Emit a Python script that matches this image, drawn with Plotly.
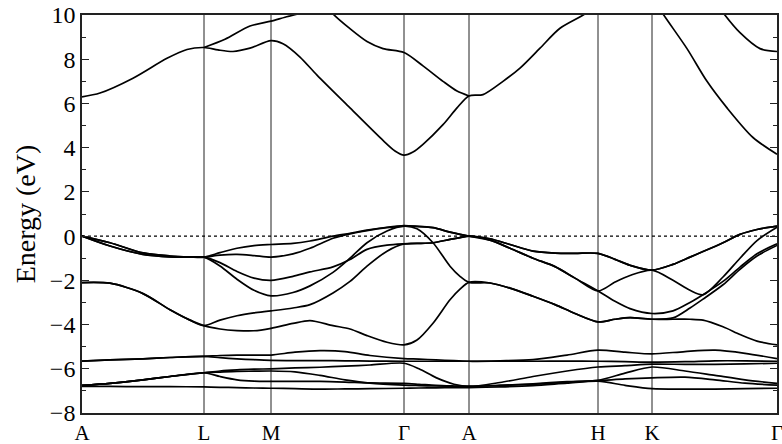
import plotly.graph_objects as go

# ---------------- k-path ----------------
kpt_labels = ["A", "L", "M", "Γ", "A", "H", "K", "Γ"]
kpt_pos = [0, 122, 189, 322, 387, 516, 570, 695]

# ---------------- valence bands near the gap: segment grids ----------------
k_AL = [0, 28, 61, 88, 108, 122]
k_LM = [122, 138, 155, 172, 189]
k_MG = [189, 211, 228, 251, 268, 285, 305, 322]
k_GA = [322, 335, 351, 368, 378, 387]
k_AH = [387, 408, 428, 451, 473, 493, 516]
k_HK = [516, 533, 548, 570]
k_KG = [570, 591, 608, 621, 641, 658, 675, 695]

AL_a = [0, -0.3, -0.76, -0.9, -0.94, -0.95]
AL_b = [0, -0.45, -0.83, -0.94, -0.95, -0.95]
AL_c = [-2.1, -2.13, -2.6, -3.33, -3.8, -4.05]
LM_u1 = [-0.95, -0.75, -0.55, -0.43, -0.38]
LM_u2 = [-0.95, -0.86, -0.83, -0.88, -0.95]
LM_u3 = [-0.95, -1.2, -1.6, -1.9, -2.0]
LM_u4 = [-0.95, -1.35, -1.95, -2.45, -2.7]
LM_u5 = [-4.05, -3.8, -3.6, -3.47, -3.38]
LM_u6 = [-4.05, -4.2, -4.27, -4.28, -4.17]
MG_t1 = [-0.38, -0.33, -0.22, 0.0, 0.13, 0.27, 0.4, 0.47]
MG_t2 = [-0.95, -0.8, -0.55, -0.1, 0.1, 0.25, 0.38, 0.45]
MG_t3 = [-2.0, -1.82, -1.62, -1.39, -1.06, -0.6, -0.41, -0.35]
MG_t4 = [-2.7, -2.55, -2.25, -1.64, -1.0, -0.3, 0.23, 0.45]
MG_t5 = [-3.38, -3.25, -3.1, -2.57, -2.05, -1.36, -0.68, -0.35]
MG_t6 = [-4.17, -3.95, -3.82, -4.05, -4.2, -4.5, -4.8, -4.92]
GA_g1 = [0.47, 0.44, 0.38, 0.18, 0.08, 0.0]
GA_g2 = [0.45, 0.33, -0.3, -1.36, -1.82, -2.09]
GA_g3 = [-0.35, -0.33, -0.3, -0.15, -0.07, 0.0]
GA_g4 = [-4.92, -4.7, -3.94, -2.88, -2.4, -2.09]
AH_h1 = [0, -0.12, -0.38, -0.68, -0.77, -0.78, -0.78]
AH_h2 = [0, -0.18, -0.55, -1.0, -1.38, -1.9, -2.48]
AH_h3 = [-2.09, -2.12, -2.35, -2.72, -3.1, -3.5, -3.88]
HK_k1 = [-0.78, -1.05, -1.32, -1.54]
HK_k2 = [-2.48, -2.08, -1.78, -1.54]
HK_k3 = [-2.48, -2.95, -3.28, -3.5]
HK_k4 = [-3.88, -3.76, -3.69, -3.76]
KG_B = [-1.54, -1.28, -0.95, -0.7, -0.3, 0.08, 0.3, 0.45]
KG_A = [-1.54, -2.0, -2.45, -2.65, -1.85, -1.0, -0.2, 0.4]
KG_C = [-3.5, -3.38, -3.0, -2.65, -2.05, -1.4, -0.8, -0.35]
KG_D = [-3.76, -3.76, -3.76, -3.8, -4.1, -4.45, -4.75, -4.92]
KG_E = [-3.76, -3.7, -3.25, -2.85, -2.2, -1.5, -0.9, -0.42]

# ---------------- lower valence group ----------------
k_lo = [0, 28, 61, 88, 122, 138, 155, 172, 189, 213, 238, 263, 288, 322,
        337, 354, 372, 387, 418, 451, 485, 516, 543, 570, 603, 633, 663, 695]
lo_a = [-5.65, -5.6, -5.55, -5.49, -5.44, -5.4, -5.38, -5.38, -5.38, -5.25, -5.18, -5.22, -5.4, -5.54,
        -5.56, -5.6, -5.63, -5.66, -5.64, -5.59, -5.38, -5.16, -5.25, -5.33, -5.22, -5.16, -5.3, -5.54]
lo_b = [-5.65, -5.6, -5.55, -5.49, -5.44, -5.5, -5.55, -5.59, -5.62, -5.63, -5.63, -5.64, -5.65, -5.66,
        -5.66, -5.66, -5.66, -5.66, -5.66, -5.66, -5.65, -5.66, -5.68, -5.7, -5.68, -5.64, -5.64, -5.66]
lo_c = [-6.75, -6.66, -6.5, -6.35, -6.18, -6.1, -6.05, -6.02, -6.0, -5.96, -5.93, -5.88, -5.83, -5.75,
        -6.0, -6.4, -6.7, -6.8, -6.62, -6.35, -6.1, -5.92, -5.86, -5.79, -5.8, -5.8, -5.78, -5.75]
lo_d = [-6.75, -6.66, -6.5, -6.35, -6.18, -6.15, -6.12, -6.11, -6.1, -6.14, -6.3, -6.5, -6.65, -6.74,
        -6.76, -6.78, -6.79, -6.8, -6.75, -6.68, -6.58, -6.52, -6.2, -5.92, -6.1, -6.3, -6.5, -6.66]
lo_e = [-6.75, -6.66, -6.5, -6.35, -6.18, -6.35, -6.5, -6.56, -6.57, -6.57, -6.57, -6.6, -6.64, -6.66,
        -6.7, -6.75, -6.78, -6.8, -6.75, -6.7, -6.6, -6.54, -6.46, -6.41, -6.38, -6.5, -6.65, -6.74]
lo_f = [-6.8, -6.8, -6.81, -6.81, -6.82, -6.84, -6.85, -6.87, -6.88, -6.9, -6.92, -6.91, -6.9, -6.88,
        -6.87, -6.86, -6.85, -6.85, -6.82, -6.76, -6.65, -6.56, -6.75, -6.9, -6.92, -6.92, -6.9, -6.88]

# ---------------- conduction bands (visible pieces) ----------------
cb1_k = [0, 18, 51, 85, 105, 122, 136, 151, 168, 189, 201, 218, 235, 268, 301, 313, 322,
         331, 341, 361, 375, 387, 401, 421, 438, 458, 478, 503, 512]
cb1_E = [6.3, 6.47, 7.14, 8.04, 8.44, 8.53, 8.42, 8.35, 8.5, 8.84, 8.7, 8.1, 7.28, 5.8, 4.33, 3.85, 3.66,
         3.8, 4.15, 5.04, 5.8, 6.34, 6.4, 7.0, 7.6, 8.5, 9.4, 10.05, 10.4]
cb2_k = [122, 143, 168, 189, 203, 215, 228]
cb2_E = [8.53, 8.9, 9.5, 9.72, 9.9, 10.04, 10.3]
cb3_k = [243, 251, 268, 285, 301, 322, 341, 361, 375, 387]
cb3_E = [10.5, 10.05, 9.38, 8.8, 8.48, 8.3, 7.7, 7.0, 6.56, 6.34]
cb4_k = [575, 581, 605, 625, 645, 671, 695]
cb4_E = [10.5, 10.05, 8.48, 7.0, 5.8, 4.46, 3.7]
cb5_k = [635, 642, 658, 678, 695]
cb5_E = [10.5, 10.05, 9.2, 8.48, 8.35]


def join(*pieces):
    ks, es = [], []
    for k, e in pieces:
        if ks:
            k, e = k[1:], e[1:]
        ks += list(k)
        es += list(e)
    return ks, es


valence = [
    join((k_AL, AL_a), (k_LM, LM_u1), (k_MG, MG_t1), (k_GA, GA_g1), (k_AH, AH_h1), (k_HK, HK_k1), (k_KG, KG_B)),
    join((k_AL, AL_b), (k_LM, LM_u2), (k_MG, MG_t2), (k_GA, GA_g1), (k_AH, AH_h2), (k_HK, HK_k2), (k_KG, KG_A)),
    join((k_AL, AL_a), (k_LM, LM_u3), (k_MG, MG_t3), (k_GA, GA_g3), (k_AH, AH_h2), (k_HK, HK_k3), (k_KG, KG_C)),
    join((k_AL, AL_b), (k_LM, LM_u4), (k_MG, MG_t4), (k_GA, GA_g2), (k_AH, AH_h3), (k_HK, HK_k4), (k_KG, KG_D)),
    join((k_AL, AL_c), (k_LM, LM_u5), (k_MG, MG_t5), (k_GA, GA_g3), (k_AH, AH_h1), (k_HK, HK_k1), (k_KG, KG_B)),
    join((k_AL, AL_c), (k_LM, LM_u6), (k_MG, MG_t6), (k_GA, GA_g4), (k_AH, AH_h3), (k_HK, HK_k4), (k_KG, KG_E)),
]
lower = [(k_lo, e) for e in (lo_a, lo_b, lo_c, lo_d, lo_e, lo_f)]
conduction = [(cb1_k, cb1_E), (cb2_k, cb2_E), (cb3_k, cb3_E), (cb4_k, cb4_E), (cb5_k, cb5_E)]

FONT = "Liberation Serif, Times New Roman, serif"
fig = go.Figure()

for k, e in valence + lower + conduction:
    fig.add_trace(go.Scatter(
        x=k, y=e, mode="lines", showlegend=False, hoverinfo="skip",
        line=dict(color="black", width=1.7, shape="spline", smoothing=0.8)))

# Fermi level
fig.add_trace(go.Scatter(
    x=[kpt_pos[0], kpt_pos[-1]], y=[0, 0], mode="lines", showlegend=False, hoverinfo="skip",
    line=dict(color="black", width=1.4, dash="dot")))

# high-symmetry vertical lines
for p in kpt_pos[1:-1]:
    fig.add_shape(type="line", xref="x", yref="paper", x0=p, x1=p, y0=0, y1=1,
                  line=dict(color="#222222", width=1), layer="below")

fig.update_layout(
    width=782, height=444,
    margin=dict(l=82, r=5, t=15, b=31),
    paper_bgcolor="white", plot_bgcolor="white",
    font=dict(family=FONT, size=21, color="black"),
    xaxis=dict(range=[kpt_pos[0], kpt_pos[-1]], tickmode="array", tickvals=kpt_pos, ticktext=kpt_labels,
               ticks="", showgrid=False, zeroline=False, showline=True, mirror=True, automargin=False,
               ticklabeloverflow="allow",
               linecolor="#222222", linewidth=1.6, tickfont=dict(family=FONT, size=21, color="black")),
    yaxis=dict(range=[-8, 10], tick0=0, dtick=2, ticks="inside", ticklen=7, tickwidth=1.2,
               tickcolor="#222222", showgrid=False, zeroline=False, showline=True, mirror="ticks",
               linecolor="#222222", linewidth=1.6, automargin=False,
               minor=dict(dtick=1, ticks="inside", ticklen=4, tickwidth=1.2, tickcolor="#222222", showgrid=False),
               tickfont=dict(family=FONT, size=24, color="black"),
               title=dict(text="Energy (eV)", font=dict(family=FONT, size=28, color="black"), standoff=6)),
)

fig.write_html("out.html", config={"displayModeBar": False},
               post_script="document.body.style.margin='0';document.body.style.overflow='hidden';")
